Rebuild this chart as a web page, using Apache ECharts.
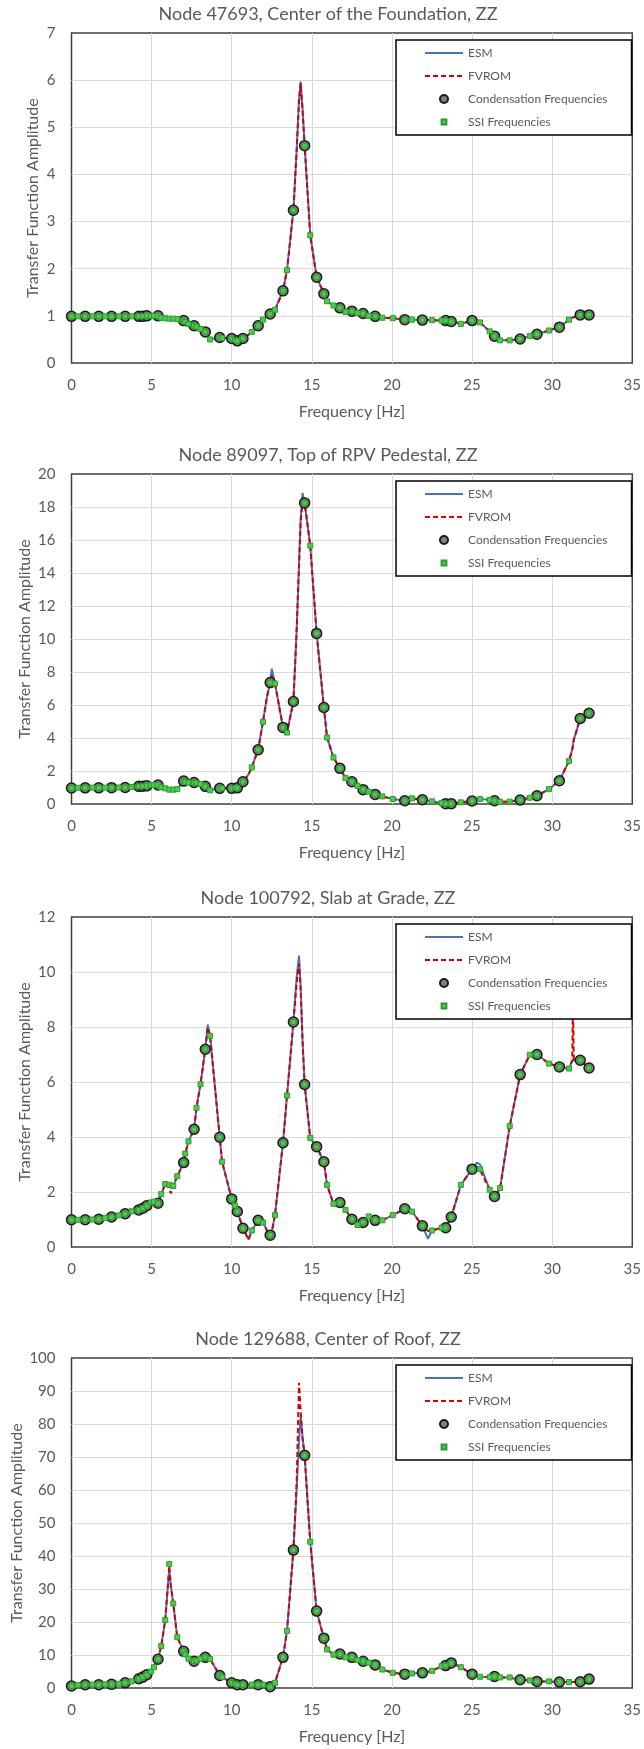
<!DOCTYPE html>
<html><head><meta charset="utf-8">
<script src="https://cdn.jsdelivr.net/npm/echarts@6.0.0/dist/echarts.min.js"></script>
<style>html,body{margin:0;padding:0;background:#fff}#c{width:644px;height:1749px}</style>
</head><body><div id="c"></div>
<script>
const panelTitles = [
  'Node 47693, Center of the Foundation, ZZ',
  'Node 89097, Top of RPV Pedestal, ZZ',
  'Node 100792, Slab at Grade, ZZ',
  'Node 129688, Center of Roof, ZZ'
];
const yMaxes = [7, 20, 12, 100];
const ySteps = [1, 2, 2, 10];
const seriesNames = ['ESM', 'FVROM', 'Condensation Frequencies', 'SSI Frequencies'];

const condFreq = [0, 0.85, 1.7, 2.5, 3.35, 4.2, 4.45, 4.7, 5.4, 7.0, 7.65, 8.35, 9.25, 10.0, 10.35, 10.7, 11.65, 12.4, 13.2, 13.85, 14.55, 15.3, 15.75, 16.75, 17.5, 18.2, 18.95, 20.8, 21.9, 23.35, 23.7, 25.0, 26.4, 28.0, 29.05, 30.45, 31.75, 32.3];

const ssiFreq = [0, 0.4, 0.85, 1.3, 1.7, 2.1, 2.5, 2.95, 3.35, 3.75,
  4.2, 4.45, 4.7, 4.95, 5.15, 5.4, 5.6, 5.85, 6.1, 6.35,
  6.6, 7.0, 7.1, 7.3, 7.65, 7.8, 8.05, 8.35, 8.65, 9.25,
  9.4, 10.0, 10.2, 10.35, 10.7, 11.25, 11.65, 11.95, 12.4, 12.7,
  13.2, 13.45, 13.85, 14.55, 14.9, 15.3, 15.75, 15.95, 16.35, 16.75,
  17.1, 17.5, 17.85, 18.2, 18.55, 18.95, 19.4, 20.05, 20.8, 21.25,
  21.9, 22.5, 23.1, 23.35, 23.7, 24.3, 25.0, 25.5, 26.1, 26.4,
  26.75, 27.35, 28.0, 28.6, 29.05, 29.8, 30.45, 31.05, 31.75, 32.3];

const lineFreq = [0, 0.4, 0.85, 1.3, 1.7, 2.1, 2.5, 2.95, 3.35, 3.75,
  4.2, 4.45, 4.7, 4.95, 5.15, 5.4, 5.6, 5.85, 6.0, 6.1,
  6.2, 6.35, 6.6, 7.0, 7.1, 7.3, 7.65, 7.8, 8.05, 8.35,
  8.5, 8.65, 9.25, 9.4, 10.0, 10.2, 10.35, 10.7, 11.05, 11.25,
  11.65, 11.95, 12.2, 12.4, 12.5, 12.7, 13.2, 13.45, 13.85, 14.05,
  14.2, 14.3, 14.42, 14.55, 14.9, 15.3, 15.75, 15.95, 16.35, 16.75,
  17.1, 17.5, 17.85, 18.2, 18.55, 18.95, 19.4, 20.05, 20.8, 21.25,
  21.9, 22.25, 22.5, 23.1, 23.35, 23.7, 24.3, 25.0, 25.3, 25.5,
  26.1, 26.4, 26.75, 27.35, 28.0, 28.6, 29.05, 29.8, 30.45, 31.05,
  31.25, 31.3, 31.35, 31.75, 32.3];

// Panel 1
const p1Esm = [0.99,0.99,0.99,0.99,0.99,0.99,0.99,0.99,0.99,0.99,
  0.99,0.99,1.0,1.0,1.0,1.0,0.96,0.95,0.94,0.94,
  0.94,0.94,0.93,0.9,0.87,0.83,0.79,0.77,0.72,0.66,
  0.58,0.5,0.54,0.53,0.52,0.49,0.47,0.52,0.6,0.66,
  0.79,0.92,0.99,1.04,1.07,1.13,1.53,1.97,3.24,4.5,
  5.6,5.97,5.4,4.61,2.71,1.82,1.47,1.31,1.22,1.17,
  1.08,1.1,1.06,1.05,1.0,0.99,0.96,0.95,0.92,0.92,
  0.91,0.91,0.91,0.9,0.9,0.88,0.83,0.9,0.9,0.86,
  0.67,0.57,0.48,0.48,0.51,0.57,0.61,0.69,0.76,0.92,
  0.96,0.97,0.98,1.02,1.02];
const p1Fvrom = [0.99,0.99,0.99,0.99,0.99,0.99,0.99,0.99,0.99,0.99,
  0.99,0.99,1.0,1.0,1.0,1.0,0.96,0.95,0.94,0.94,
  0.94,0.94,0.93,0.9,0.87,0.83,0.79,0.77,0.72,0.66,
  0.58,0.5,0.54,0.53,0.52,0.49,0.47,0.52,0.6,0.66,
  0.79,0.92,0.99,1.04,1.07,1.12,1.53,1.97,3.24,4.5,
  5.55,5.93,5.35,4.61,2.71,1.82,1.47,1.31,1.22,1.17,
  1.08,1.1,1.06,1.05,1.0,0.99,0.96,0.95,0.92,0.92,
  0.91,0.91,0.91,0.9,0.9,0.88,0.83,0.9,0.9,0.86,
  0.67,0.57,0.48,0.48,0.51,0.57,0.61,0.69,0.76,0.92,
  0.96,0.97,0.98,1.02,1.02];
const p1Cond = [0.99,0.99,0.99,0.99,0.99,0.99,0.99,1.0,1.0,0.9,
  0.79,0.66,0.54,0.52,0.47,0.52,0.79,1.04,1.53,3.24,
  4.61,1.82,1.47,1.17,1.1,1.05,0.99,0.92,0.91,0.9,
  0.88,0.9,0.57,0.51,0.61,0.76,1.02,1.02];
const p1Ssi = [0.99,0.99,0.99,0.99,0.99,0.99,0.99,0.99,0.99,0.99,
  0.99,0.99,1.0,1.0,1.0,1.0,0.96,0.95,0.94,0.94,
  0.93,0.9,0.87,0.83,0.79,0.77,0.72,0.66,0.5,0.54,
  0.53,0.52,0.49,0.47,0.52,0.66,0.79,0.92,1.04,1.13,
  1.53,1.97,3.24,4.61,2.71,1.82,1.47,1.31,1.22,1.17,
  1.08,1.1,1.06,1.05,1.0,0.99,0.96,0.95,0.92,0.92,
  0.91,0.91,0.9,0.9,0.88,0.83,0.9,0.86,0.67,0.57,
  0.48,0.48,0.51,0.57,0.61,0.69,0.76,0.92,1.02,1.02];

// Panel 2
const p2Esm = [0.97,0.98,0.98,0.99,0.98,0.99,0.99,1.0,1.0,1.03,
  1.07,1.08,1.1,1.15,1.15,1.15,1.02,0.95,0.9,0.87,
  0.87,0.87,0.9,1.39,1.35,1.3,1.3,1.28,1.2,1.07,
  0.9,0.83,0.95,0.95,0.95,0.97,0.98,1.35,1.8,2.22,
  3.29,4.98,6.5,7.36,8.2,7.3,4.64,4.33,6.21,10.5,
  14.5,17.3,18.85,18.25,15.66,10.34,5.85,4.03,2.82,2.16,
  1.57,1.35,1.1,0.87,0.75,0.58,0.46,0.3,0.2,0.34,
  0.26,0.2,0.16,0.06,0.02,0.02,0.1,0.18,0.22,0.3,
  0.25,0.2,0.14,0.14,0.24,0.38,0.5,0.9,1.41,2.6,
  3.3,3.6,3.9,5.18,5.5];
const p2Fvrom = [0.97,0.98,0.98,0.99,0.98,0.99,0.99,1.0,1.0,1.03,
  1.07,1.08,1.1,1.15,1.15,1.15,1.02,0.95,0.9,0.87,
  0.87,0.87,0.9,1.39,1.35,1.3,1.3,1.28,1.2,1.07,
  0.9,0.83,0.95,0.95,0.95,0.97,0.98,1.35,1.8,2.22,
  3.29,4.98,6.5,7.36,7.85,7.3,4.64,4.33,6.21,10.5,
  14.5,17.0,18.3,18.25,15.66,10.34,5.85,4.03,2.82,2.16,
  1.57,1.35,1.1,0.87,0.75,0.58,0.46,0.3,0.2,0.34,
  0.26,0.2,0.16,0.06,0.02,0.02,0.1,0.18,0.22,0.3,
  0.25,0.2,0.14,0.14,0.24,0.38,0.5,0.9,1.41,2.6,
  3.3,3.6,3.9,5.18,5.5];
const p2Cond = [0.97,0.98,0.98,0.99,1.0,1.07,1.08,1.1,1.15,1.39,
  1.3,1.07,0.95,0.95,0.98,1.35,3.29,7.36,4.64,6.21,
  18.25,10.34,5.85,2.16,1.35,0.87,0.58,0.2,0.26,0.02,
  0.02,0.18,0.2,0.24,0.5,1.41,5.18,5.5];
const p2Ssi = [0.97,0.98,0.98,0.99,0.98,0.99,0.99,1.0,1.0,1.03,
  1.07,1.08,1.1,1.15,1.15,1.15,1.02,0.95,0.87,0.87,
  0.9,1.39,1.35,1.3,1.3,1.28,1.2,1.07,0.83,0.95,
  0.95,0.95,0.97,0.98,1.35,2.22,3.29,4.98,7.36,7.3,
  4.64,4.33,6.21,18.25,15.66,10.34,5.85,4.03,2.82,2.16,
  1.57,1.35,1.1,0.87,0.75,0.58,0.46,0.3,0.2,0.34,
  0.26,0.16,0.06,0.02,0.02,0.1,0.18,0.3,0.25,0.2,
  0.14,0.14,0.24,0.38,0.5,0.9,1.41,2.6,5.18,5.5];

// Panel 3
const p3Esm = [0.99,0.99,0.99,1.0,1.01,1.05,1.09,1.15,1.21,1.3,
  1.35,1.41,1.5,1.62,1.65,1.59,1.92,2.29,2.27,2.26,
  2.15,2.22,2.57,3.07,3.4,3.84,4.28,5.06,5.92,7.19,
  8.09,7.68,3.99,3.1,1.75,1.51,1.29,0.68,0.27,0.6,
  0.97,0.89,0.6,0.43,0.55,1.16,3.79,5.51,8.18,9.8,
  10.6,9.5,7.5,5.91,3.97,3.65,3.1,2.26,1.57,1.62,
  1.35,1.01,0.8,0.89,1.11,0.97,0.97,1.16,1.39,1.29,
  0.77,0.3,0.6,0.7,0.7,1.09,2.26,2.83,3.07,3.0,
  2.08,1.84,2.14,4.4,6.27,6.99,7.0,6.67,6.55,6.49,
  6.78,6.8,6.82,6.79,6.51];
const p3Fvrom = [0.99,0.99,0.99,1.0,1.01,1.05,1.09,1.15,1.21,1.3,
  1.35,1.41,1.5,1.62,1.65,1.59,1.92,2.29,2.27,2.26,
  1.95,2.22,2.57,3.07,3.4,3.84,4.28,5.06,5.92,7.19,
  7.98,7.68,3.99,3.1,1.75,1.51,1.29,0.68,0.27,0.6,
  0.97,0.89,0.6,0.43,0.55,1.16,3.79,5.51,8.18,9.6,
  10.3,9.4,7.5,5.91,3.97,3.65,3.1,2.26,1.57,1.62,
  1.35,1.01,0.8,0.89,1.11,0.97,0.97,1.16,1.39,1.29,
  0.77,0.58,0.6,0.7,0.7,1.09,2.26,2.83,2.9,2.8,
  2.08,1.84,2.14,4.4,6.27,6.99,7.0,6.67,6.55,6.49,
  6.78,9.0,6.82,6.79,6.51];
const p3Cond = [0.99,0.99,1.01,1.09,1.21,1.35,1.41,1.5,1.59,3.07,
  4.28,7.19,3.99,1.75,1.29,0.68,0.97,0.43,3.79,8.18,
  5.91,3.65,3.1,1.62,1.01,0.89,0.97,1.39,0.77,0.7,
  1.09,2.83,1.84,6.27,7.0,6.55,6.79,6.51];
const p3Ssi = [0.99,0.99,0.99,1.0,1.01,1.05,1.09,1.15,1.21,1.3,
  1.35,1.41,1.5,1.62,1.65,1.59,1.92,2.29,2.26,2.22,
  2.57,3.07,3.4,3.84,4.28,5.06,5.92,7.19,7.68,3.99,
  3.1,1.75,1.51,1.29,0.68,0.6,0.97,0.89,0.43,1.16,
  3.79,5.51,8.18,5.91,3.97,3.65,3.1,2.26,1.57,1.62,
  1.35,1.01,0.8,0.89,1.11,0.97,0.97,1.16,1.39,1.29,
  0.77,0.6,0.7,0.7,1.09,2.26,2.83,2.83,2.08,1.84,
  2.14,4.4,6.27,6.99,7.0,6.67,6.55,6.49,6.79,6.51];

// Panel 4
const p4Esm = [0.6,0.9,1.0,1.0,1.0,1.1,1.1,1.3,1.6,2.0,
  2.8,3.3,4.0,5.0,6.3,8.7,12.7,20.6,30.0,36.0,
  31.0,25.6,15.4,11.1,10.2,8.9,8.1,8.3,8.9,9.3,
  9.1,8.8,3.8,3.3,1.6,1.3,1.0,1.0,1.0,1.0,
  1.0,1.0,0.8,0.4,0.8,1.6,9.3,17.3,41.8,60.0,
  75.0,82.4,76.0,70.5,44.3,23.3,15.1,11.7,10.1,10.3,
  9.3,9.3,8.5,8.1,7.7,7.0,5.6,4.6,4.2,4.4,
  4.6,4.9,5.2,6.6,6.8,7.6,6.3,4.2,3.6,3.4,
  3.3,3.5,3.2,3.2,2.5,2.3,2.0,2.0,1.8,1.8,
  1.8,1.8,1.8,1.9,2.7];
const p4Fvrom = [0.6,0.9,1.0,1.0,1.0,1.1,1.1,1.3,1.6,2.0,
  2.8,3.3,4.0,5.0,6.3,8.7,12.7,20.6,30.0,37.0,
  31.0,25.6,15.4,11.1,10.2,8.9,8.1,8.3,8.9,9.3,
  9.1,8.8,3.8,3.3,1.6,1.3,1.0,1.0,1.0,1.0,
  1.0,1.0,0.8,0.4,0.8,1.6,9.3,17.3,41.8,62.0,
  92.5,84.0,75.5,70.5,44.3,23.3,15.1,11.7,10.1,10.3,
  9.3,9.3,8.5,8.1,7.7,7.0,5.6,4.6,4.2,4.4,
  4.6,4.9,5.2,6.6,6.8,7.6,6.3,4.2,3.6,3.4,
  3.3,3.5,3.2,3.2,2.5,2.3,2.0,2.0,1.8,1.8,
  1.8,1.8,1.8,1.9,2.7];
const p4Cond = [0.6,1.0,1.0,1.1,1.6,2.8,3.3,4.0,8.7,11.1,
  8.1,9.3,3.8,1.6,1.0,1.0,1.0,0.4,9.3,41.8,
  70.5,23.3,15.1,10.3,9.3,8.1,7.0,4.2,4.6,6.8,
  7.6,4.2,3.5,2.5,2.0,1.8,1.9,2.7];
const p4Ssi = [0.6,0.9,1.0,1.0,1.0,1.1,1.1,1.3,1.6,2.0,
  2.8,3.3,4.0,5.0,6.3,8.7,12.7,20.6,37.6,25.6,
  15.4,11.1,10.2,8.9,8.1,8.3,8.9,9.3,8.8,3.8,
  3.3,1.6,1.3,1.0,1.0,1.0,1.0,1.0,0.4,1.6,
  9.3,17.3,41.8,70.5,44.3,23.3,15.1,11.7,10.1,10.3,
  9.3,9.3,8.5,8.1,7.7,7.0,5.6,4.6,4.2,4.4,
  4.6,5.2,6.6,6.8,7.6,6.3,4.2,3.4,3.3,3.5,
  3.2,3.2,2.5,2.3,2.0,2.0,1.8,1.8,1.9,2.7];

const panels = [
  {esm: p1Esm, fv: p1Fvrom, cond: p1Cond, ssi: p1Ssi},
  {esm: p2Esm, fv: p2Fvrom, cond: p2Cond, ssi: p2Ssi},
  {esm: p3Esm, fv: p3Fvrom, cond: p3Cond, ssi: p3Ssi},
  {esm: p4Esm, fv: p4Fvrom, cond: p4Cond, ssi: p4Ssi}
];

// layout (pixels)
const FONT = 'Lato';
const TXT = '#595959';
const gridTops = [33, 474, 917, 1358];
const yNameGaps = [30.5, 38.8, 38.8, 47];

const zip = (xs, ys) => xs.map((x, k) => [x, ys[k]]);

const legendData = [
  {name: 'ESM', itemStyle: {opacity: 0}},
  {name: 'FVROM', itemStyle: {opacity: 0}},
  {name: 'Condensation Frequencies'},
  {name: 'SSI Frequencies', icon: 'path://M0,0M10,10M2,2H8V8H2Z'}
];

const option = {
  animation: false,
  backgroundColor: '#fff',
  title: [], grid: [], xAxis: [], yAxis: [], legend: [], series: []
};

panels.forEach((p, i) => {
  const top = gridTops[i];
  option.title.push({
    text: panelTitles[i], left: 328, top: top - 28, textAlign: 'center', padding: 0,
    textStyle: {fontFamily: FONT, fontSize: 18, fontWeight: 'normal', color: TXT}
  });
  option.grid.push({
    left: 71.5, top: top, width: 562, height: 330, show: true,
    borderColor: '#404040', borderWidth: 1.5, backgroundColor: 'transparent'
  });
  option.xAxis.push({
    type: 'value', gridIndex: i, min: 0, max: 35, interval: 5,
    axisLine: {show: false}, axisTick: {show: false},
    axisLabel: {fontFamily: FONT, fontSize: 15, color: TXT, margin: 15},
    splitLine: {show: true, showMinLine: false, showMaxLine: false, lineStyle: {color: '#d9d9d9', width: 1}},
    name: 'Frequency [Hz]', nameLocation: 'middle', nameGap: 41, nameMoveOverlap: false,
    nameTextStyle: {fontFamily: FONT, fontSize: 16, color: TXT}
  });
  option.yAxis.push({
    type: 'value', gridIndex: i, min: 0, max: yMaxes[i], interval: ySteps[i],
    axisLine: {show: false}, axisTick: {show: false},
    axisLabel: {fontFamily: FONT, fontSize: 15, color: TXT, margin: 16},
    splitLine: {show: true, showMinLine: false, showMaxLine: false, lineStyle: {color: '#d9d9d9', width: 1}},
    name: 'Transfer Function Amplitude', nameLocation: 'middle', nameGap: yNameGaps[i], nameMoveOverlap: false,
    nameTextStyle: {fontFamily: FONT, fontSize: 16, color: TXT}
  });
  option.legend.push({
    orient: 'vertical', left: 396, top: top + 7,
    itemWidth: 38, itemHeight: 8, itemGap: 9,
    padding: [6, 24, 6, 28],
    borderColor: '#000', borderWidth: 1.5, backgroundColor: '#fff',
    selectedMode: false, z: 10,
    textStyle: {fontFamily: FONT, fontSize: 12, color: TXT, lineHeight: 14},
    data: legendData
  });
  option.series.push({
    type: 'line', name: 'ESM', xAxisIndex: i, yAxisIndex: i,
    data: zip(lineFreq, p.esm), symbol: 'none', z: 2,
    lineStyle: {color: '#4472C4', width: 2}, itemStyle: {color: '#4472C4'}
  });
  option.series.push({
    type: 'line', name: 'FVROM', xAxisIndex: i, yAxisIndex: i,
    data: zip(lineFreq, p.fv), symbol: 'none', z: 3,
    lineStyle: {color: '#D40000', width: 2, type: [5, 3]}, itemStyle: {color: '#D40000'}
  });
  option.series.push({
    type: 'scatter', name: 'Condensation Frequencies', xAxisIndex: i, yAxisIndex: i,
    data: zip(condFreq, p.cond), symbol: 'circle', symbolSize: 10, z: 4,
    itemStyle: {color: '#808080', borderColor: '#1a1a1a', borderWidth: 1.5, opacity: 1}
  });
  option.series.push({
    type: 'scatter', name: 'SSI Frequencies', xAxisIndex: i, yAxisIndex: i,
    data: zip(ssiFreq, p.ssi), symbol: 'rect', symbolSize: 5, z: 5,
    itemStyle: {color: '#45D045', borderColor: '#2E9A2E', borderWidth: 1, opacity: 1}
  });
});

const chart = echarts.init(document.getElementById('c'));
chart.setOption(option);
</script>
</body></html>
